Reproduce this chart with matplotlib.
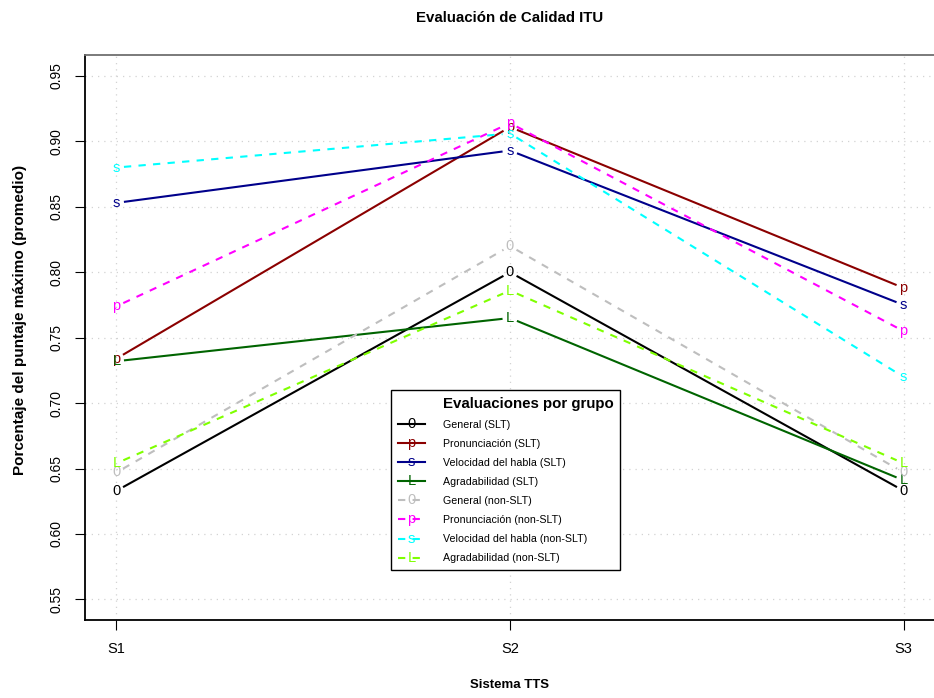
import numpy as np
import matplotlib
matplotlib.use("Agg")
import matplotlib.pyplot as plt
from matplotlib import font_manager
from matplotlib.font_manager import FontProperties
from matplotlib.legend_handler import HandlerLine2D
from matplotlib.lines import Line2D
from matplotlib.text import Text

# data
systems = ["S1", "S2", "S3"]
general_slt = [0.633, 0.800, 0.633]
pron_slt = [0.734, 0.911, 0.788]
vel_slt = [0.853, 0.893, 0.775]
agrad_slt = [0.732, 0.765, 0.641]
general_non = [0.647, 0.820, 0.647]
pron_non = [0.774, 0.914, 0.755]
vel_non = [0.880, 0.906, 0.720]
agrad_non = [0.654, 0.786, 0.654]

labels = ["General (SLT)", "Pronunciación (SLT)", "Velocidad del habla (SLT)", "Agradabilidad (SLT)",
          "General (non-SLT)", "Pronunciación (non-SLT)", "Velocidad del habla (non-SLT)", "Agradabilidad (non-SLT)"]
series = [general_slt, pron_slt, vel_slt, agrad_slt, general_non, pron_non, vel_non, agrad_non]
chars = ["0", "p", "s", "L", "0", "p", "s", "L"]
colors = ["black", "#8B0000", "#00008B", "#006400", "#BEBEBE", "#FF00FF", "#00FFFF", "#7FFF00"]
styles = ["-"] * 4 + [(0, (3.5, 3.5))] * 4
legend_title = "Evaluaciones por grupo"

names = {f.name for f in font_manager.fontManager.ttflist}
NARROW = "Liberation Sans Narrow" if "Liberation Sans Narrow" in names else "Liberation Sans"
plt.rcParams["font.family"] = NARROW

W, H = 934, 698
fig = plt.figure(figsize=(W / 100, H / 100), dpi=100)
ax = fig.add_axes([85 / W, 1 - 620.3 / H, 850 / W, 565.3 / H])
x = np.arange(1, len(systems) + 1)
ax.set_xlim(0.92, 3.08)
ax.set_ylim(0.534, 0.966)

yt = np.arange(0.55, 0.951, 0.05)
ax.set_yticks(yt)
ax.set_yticklabels(["%.2f" % v for v in yt], rotation=90, va="center", fontsize=10)
ax.set_xticks(x)
ax.set_xticklabels(systems, fontsize=10.5)
ax.tick_params(axis="y", length=7.2, width=0.8, pad=8)
ax.tick_params(axis="x", length=7.2, width=0.8, pad=8.5)

for v in yt:
    ax.axhline(v, color="#D3D3D3", lw=0.9, ls=(0, (1, 4)), zorder=0)
for v in x:
    ax.axvline(v, color="#D3D3D3", lw=0.9, ls=(0, (1, 4)), zorder=0)

for s in ["left", "bottom"]:
    ax.spines[s].set_linewidth(1.3)
ax.spines["top"].set_color("#707070")
ax.spines["top"].set_linewidth(1.3)
ax.spines["right"].set_visible(False)

# type="b" style: segments with a gap around each point
gap = 7.5
tr = ax.transData
inv = tr.inverted()
for ys, ch, c, ls in zip(series, chars, colors, styles):
    pts = tr.transform(np.column_stack([x, ys]))
    for i in range(len(pts) - 1):
        p0, p1 = pts[i], pts[i + 1]
        d = p1 - p0
        u = d / np.hypot(*d)
        seg = inv.transform(np.array([p0 + u * gap, p1 - u * gap]))
        ax.plot(seg[:, 0], seg[:, 1], color=c, lw=1.5, ls=ls, solid_capstyle="butt")
    for xi, yi in zip(x, ys):
        ax.text(xi, yi, ch, color=c, ha="center", va="center", fontsize=10.5)


class HandlerChar(HandlerLine2D):
    def __init__(self, ch, color, **kw):
        super().__init__(**kw)
        self.ch = ch
        self.color = color

    def create_artists(self, legend, orig_handle, xdescent, ydescent, width, height, fontsize, trans):
        arts = super().create_artists(legend, orig_handle, xdescent, ydescent, width, height, fontsize, trans)
        t = Text(width / 2 - xdescent, height / 2 - ydescent, self.ch, color=self.color,
                 ha="center", va="center", fontsize=10.5, fontfamily=NARROW, transform=trans)
        return list(arts) + [t]


# first row carries the legend title, aligned with the label column as in the reference
blank = Line2D([], [], color="none")
handles = [Line2D([], [], color=c, lw=1.5, ls=ls) for c, ls in zip(colors, styles)]
hmap = {h: HandlerChar(ch, c) for h, ch, c in zip(handles, chars, colors)}
leg = ax.legend([blank] + handles, [legend_title] + labels, handler_map=hmap, loc="upper left",
                bbox_to_anchor=((391 - 85) / 850, (620.3 - 390) / 565.3),
                borderaxespad=0, fontsize=7.7, frameon=True, fancybox=False,
                edgecolor="black", framealpha=1, handlelength=2.6, handletextpad=1.65,
                labelspacing=0.85, borderpad=0.62)
leg.get_frame().set_linewidth(1.0)
leg.get_texts()[0].set_fontproperties(FontProperties(family="Liberation Sans", weight="bold", size=10.8))

fig.text(510 / W, 1 - 18 / H, "Evaluación de Calidad ITU", ha="center", va="center",
         fontsize=10.8, fontweight="bold", family="Liberation Sans")
fig.text(20 / W, 1 - 320 / H, "Porcentaje del puntaje máximo (promedio)", rotation=90,
         ha="center", va="center", fontsize=11, fontweight="bold")
fig.text(509 / W, 1 - 685 / H, "Sistema TTS", ha="center", va="center",
         fontsize=9.5, fontweight="bold")

fig.savefig("out.png", dpi=100)
